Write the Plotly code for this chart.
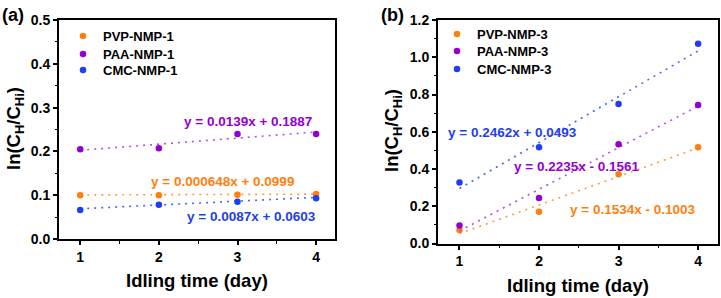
import plotly.graph_objects as go

days = [1, 2, 3, 4]

# Panel (a)
pvp1 = [0.100, 0.100, 0.101, 0.103]
paa1 = [0.205, 0.207, 0.240, 0.240]
cmc1 = [0.066, 0.078, 0.085, 0.093]
fit_a = {"PVP-NMP-1": (0.000648, 0.0999), "PAA-NMP-1": (0.0139, 0.1887), "CMC-NMP-1": (0.0087, 0.0603)}
eq_a = ["y = 0.000648x + 0.0999", "y = 0.0139x + 0.1887", "y = 0.0087x + 0.0603"]

# Panel (b)
pvp3 = [0.073, 0.171, 0.372, 0.517]
paa3 = [0.096, 0.244, 0.533, 0.743]
cmc3 = [0.328, 0.517, 0.749, 1.073]
fit_b = {"PVP-NMP-3": (0.1534, -0.1003), "PAA-NMP-3": (0.2235, -0.1561), "CMC-NMP-3": (0.2462, 0.0493)}
eq_b = ["y = 0.1534x - 0.1003", "y = 0.2235x - 0.1561", "y = 0.2462x + 0.0493"]

ORANGE = "#FF7F0E"
PURPLE = "#9400D3"
BLUE = "#1F3DF2"
LINE_OR = "#FF9A40"
LINE_PU = "#B050E8"
LINE_BL = "#4A66F5"
FONT = "Liberation Sans"

W, H = 721, 298
def px_x(p): return p / W
def px_y(p): return 1 - p / H

fig = go.Figure()

def add_series(name, ys, fit, color, lcolor, xa, ya, legend):
    m, c = fit
    xl = [min(days), max(days)]
    fig.add_trace(go.Scatter(x=xl, y=[m * v + c for v in xl], mode="lines",
                             line=dict(color=lcolor, width=1.6, dash="2px,5px"),
                             showlegend=False, xaxis=xa, yaxis=ya, hoverinfo="skip"))
    fig.add_trace(go.Scatter(x=days, y=ys, mode="markers", name=name,
                             marker=dict(color=color, size=6.5),
                             xaxis=xa, yaxis=ya, legend=legend))

add_series("PVP-NMP-1", pvp1, fit_a["PVP-NMP-1"], ORANGE, LINE_OR, "x", "y", "legend")
add_series("PAA-NMP-1", paa1, fit_a["PAA-NMP-1"], PURPLE, LINE_PU, "x", "y", "legend2")
add_series("CMC-NMP-1", cmc1, fit_a["CMC-NMP-1"], BLUE, LINE_BL, "x", "y", "legend3")
add_series("PVP-NMP-3", pvp3, fit_b["PVP-NMP-3"], ORANGE, LINE_OR, "x2", "y2", "legend4")
add_series("PAA-NMP-3", paa3, fit_b["PAA-NMP-3"], PURPLE, LINE_PU, "x2", "y2", "legend5")
add_series("CMC-NMP-3", cmc3, fit_b["CMC-NMP-3"], BLUE, LINE_BL, "x2", "y2", "legend6")

tickfont = dict(family=FONT, size=14, color="black", weight="bold")
axis_common = dict(showgrid=False, zeroline=False, showline=True, linecolor="black", linewidth=2,
                   mirror=True, ticks="outside", ticklen=4, tickwidth=1.5, tickcolor="black",
                   tickfont=tickfont, automargin=False)
minor_common = dict(ticks="outside", ticklen=2.5, tickwidth=1.2, tickcolor="black")

def legend_at(x, y):
    return dict(x=px_x(x), y=px_y(y), xanchor="left", yanchor="top",
                bgcolor="rgba(0,0,0,0)",
                font=dict(family=FONT, size=13, color="black", weight="bold"))

fig.update_layout(
    width=W, height=H, margin=dict(l=0, r=0, t=0, b=0),
    paper_bgcolor="white", plot_bgcolor="white",
    font=dict(family=FONT, color="black"),
    xaxis=dict(axis_common, domain=[px_x(59), px_x(335)], range=[0.73, 4.24],
               tickvals=[1, 2, 3, 4], anchor="y",
               minor=dict(minor_common, tickvals=[1.5, 2.5, 3.5])),
    yaxis=dict(axis_common, domain=[px_y(239), px_y(20)], range=[0, 0.5],
               tickvals=[0, 0.1, 0.2, 0.3, 0.4, 0.5], tickformat=".1f", anchor="x",
               minor=dict(minor_common, tickvals=[0.05, 0.15, 0.25, 0.35, 0.45])),
    xaxis2=dict(axis_common, domain=[px_x(438), px_x(718)], range=[0.73, 4.25],
                tickvals=[1, 2, 3, 4], anchor="y2",
                minor=dict(minor_common, tickvals=[1.5, 2.5, 3.5])),
    yaxis2=dict(axis_common, domain=[px_y(243.5), px_y(20)], range=[0, 1.2],
                tickvals=[0, 0.2, 0.4, 0.6, 0.8, 1.0, 1.2], tickformat=".1f", anchor="x2",
                minor=dict(minor_common, tickvals=[0.1, 0.3, 0.5, 0.7, 0.9, 1.1])),
    legend=legend_at(63, 21),
    legend2=legend_at(63, 39),
    legend3=legend_at(63, 55),
    legend4=legend_at(437, 19),
    legend5=legend_at(437, 36),
    legend6=legend_at(437, 54),
    showlegend=True,
)

ann = []
def text(x, y, s, size, color="black", angle=0, xanchor="center"):
    ann.append(dict(x=px_x(x), y=px_y(y), xref="paper", yref="paper", text=s, showarrow=False,
                    font=dict(family=FONT, size=size, color=color, weight="bold"), textangle=angle,
                    xanchor=xanchor, yanchor="middle"))

# equations
text(248, 121, eq_a[1], 13.5, PURPLE)
text(223, 181, eq_a[0], 13.5, ORANGE)
text(251, 216, eq_a[2], 13.5, BLUE)
text(512, 132, eq_b[2], 13.5, BLUE)
text(576, 166, eq_b[1], 13.5, PURPLE)
text(632, 209, eq_b[0], 13.5, ORANGE)

# axis titles
ytitle = "ln(C<sub>H</sub>/C<sub>Hi</sub>)"
text(15, 129, ytitle, 18.5, angle=-90)
text(393, 131, ytitle, 18.5, angle=-90)
text(197, 280, "Idling time (day)", 18.5)
text(578, 285, "Idling time (day)", 18.5)

# panel labels
text(0, 15, "(a)", 18, xanchor="left")
text(379, 15, "(b)", 18, xanchor="left")

fig.update_layout(annotations=ann)

fig.write_html("out.html", config={"displayModeBar": False},
               post_script="document.body.style.margin='0';")
